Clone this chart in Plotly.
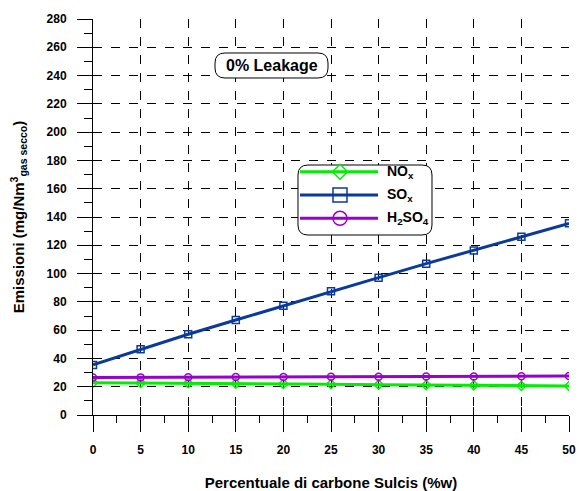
import plotly.graph_objects as go

x = [0, 5, 10, 15, 20, 25, 30, 35, 40, 45, 50]
nox = [22.8, 22.7, 22.5, 22.2, 22.0, 21.8, 21.4, 21.2, 21.0, 20.6, 20.5]
sox = [35.4, 46.5, 57.1, 67.2, 77.3, 87.5, 97.1, 107.0, 116.4, 126.1, 135.5]
h2so4 = [26.5, 26.6, 26.7, 26.8, 26.9, 27.0, 27.1, 27.2, 27.3, 27.4, 27.5]

names = ["NO<sub>x</sub>", "SO<sub>x</sub>", "H<sub>2</sub>SO<sub>4</sub>"]
colors = ["#00ee00", "#0a3a9a", "#9900cc"]
symbols = ["diamond-open", "square-open", "circle-open"]
series = [nox, sox, h2so4]

font = "Liberation Sans, Arial, sans-serif"

fig = go.Figure()
for n, ys, c, s in zip(names, series, colors, symbols):
    fig.add_trace(go.Scatter(x=x, y=ys, mode="lines+markers", name=n, showlegend=False,
                             line=dict(color=c, width=3),
                             marker=dict(symbol=s, size=7, color=c, line=dict(width=1.5, color=c))))
# overlay axes for inside tick parts
fig.add_trace(go.Scatter(x=[None], y=[None], xaxis="x2", yaxis="y2", showlegend=False))


def rrect(w, h, r):
    a, b = w / 2, h / 2
    return (f"M{-a + r},{-b} L{a - r},{-b} Q{a},{-b} {a},{-b + r} L{a},{b - r} Q{a},{b} {a - r},{b} "
            f"L{-a + r},{b} Q{-a},{b} {-a},{b - r} L{-a},{-b + r} Q{-a},{-b} {-a + r},{-b} Z")


shapes = []
annotations = []
# rounded boxes (pixel-sized, anchored in paper coords)
for cx, cy, w, h, r in [(0.5714, 0.5429, 134, 70, 10), (0.375, 0.8826, 113, 25, 10)]:
    shapes.append(dict(type="path", xref="paper", yref="paper", xsizemode="pixel", ysizemode="pixel",
                       xanchor=cx, yanchor=cy, path=rrect(w, h, r), fillcolor="white",
                       line=dict(color="black", width=1), layer="above"))

# custom legend entries
row_y = [0.6144, 0.5556, 0.4966]
mx = 0.5189
tx = 0.6134
for n, c, s, ry in zip(names, colors, symbols, row_y):
    shapes.append(dict(type="line", xref="paper", yref="paper", xsizemode="pixel", ysizemode="pixel",
                       xanchor=mx, yanchor=ry, x0=-40, x1=38, y0=0, y1=0,
                       line=dict(color=c, width=3), layer="above"))
    base = dict(xref="paper", yref="paper", xsizemode="pixel", ysizemode="pixel",
                xanchor=mx, yanchor=ry, line=dict(color=c, width=1.5), layer="above")
    if s.startswith("diamond"):
        shapes.append(dict(type="path", path="M0,-7.5 L7.5,0 L0,7.5 L-7.5,0 Z", **base))
    elif s.startswith("square"):
        shapes.append(dict(type="rect", x0=-7, x1=7, y0=-7, y1=7, **base))
    else:
        shapes.append(dict(type="circle", x0=-7, x1=7, y0=-7, y1=7, **base))
    annotations.append(dict(text=f"<b>{n}</b>", x=tx, y=ry, xref="paper", yref="paper",
                            xanchor="left", yanchor="middle", showarrow=False,
                            font=dict(size=14, family=font, color="black")))

annotations.append(dict(text="<b>0% Leakage</b>", x=0.375, y=0.8826, xref="paper", yref="paper",
                        xanchor="center", yanchor="middle", showarrow=False,
                        font=dict(size=16, family=font, color="black")))

fig.update_layout(
    width=580, height=491,
    margin=dict(l=93, r=11, t=19, b=76),
    plot_bgcolor="white", paper_bgcolor="white",
    font=dict(family=font, size=12, color="black"),
    showlegend=False,
    xaxis=dict(range=[0, 50], tickvals=x, ticks="outside", ticklen=16, tickwidth=1,
               tickcolor="black", showline=True, linecolor="black", linewidth=1,
               showgrid=True, gridcolor="black", griddash="dash", gridwidth=1,
               zeroline=False, tickfont=dict(size=12, family=font, weight="bold"),
               minor=dict(dtick=2.5, tick0=0, ticks="outside", ticklen=7, tickcolor="black", showgrid=False),
               title=dict(text="<b>Percentuale di carbone Sulcis (%w)</b>", font=dict(size=15), standoff=22),
               ticklabelstandoff=8, automargin=False),
    yaxis=dict(range=[0, 280], dtick=20, ticks="outside", ticklen=15, tickwidth=1,
               tickcolor="black", showline=True, linecolor="black", linewidth=1,
               showgrid=True, gridcolor="black", griddash="dash", gridwidth=1,
               zeroline=False, tickfont=dict(size=12, family=font, weight="bold"),
               minor=dict(dtick=10, tick0=0, ticks="outside", ticklen=8, tickcolor="black", showgrid=False),
               title=dict(text="<b>Emissioni (mg/Nm<sup>3</sup><sub>gas secco</sub>)</b>", font=dict(size=15), standoff=18),
               ticklabelstandoff=8, automargin=False),
    xaxis2=dict(range=[0, 50], tickvals=x, overlaying="x", side="bottom", anchor="y2",
                ticks="inside", ticklen=8, tickcolor="black", showticklabels=False,
                showgrid=False, zeroline=False, showline=False, automargin=False),
    yaxis2=dict(range=[0, 280], dtick=20, overlaying="y", side="left", anchor="x2",
                ticks="inside", ticklen=7, tickcolor="black", showticklabels=False,
                showgrid=False, zeroline=False, showline=False, automargin=False),
    shapes=shapes,
    annotations=annotations,
)
fig.write_html("out.html")
